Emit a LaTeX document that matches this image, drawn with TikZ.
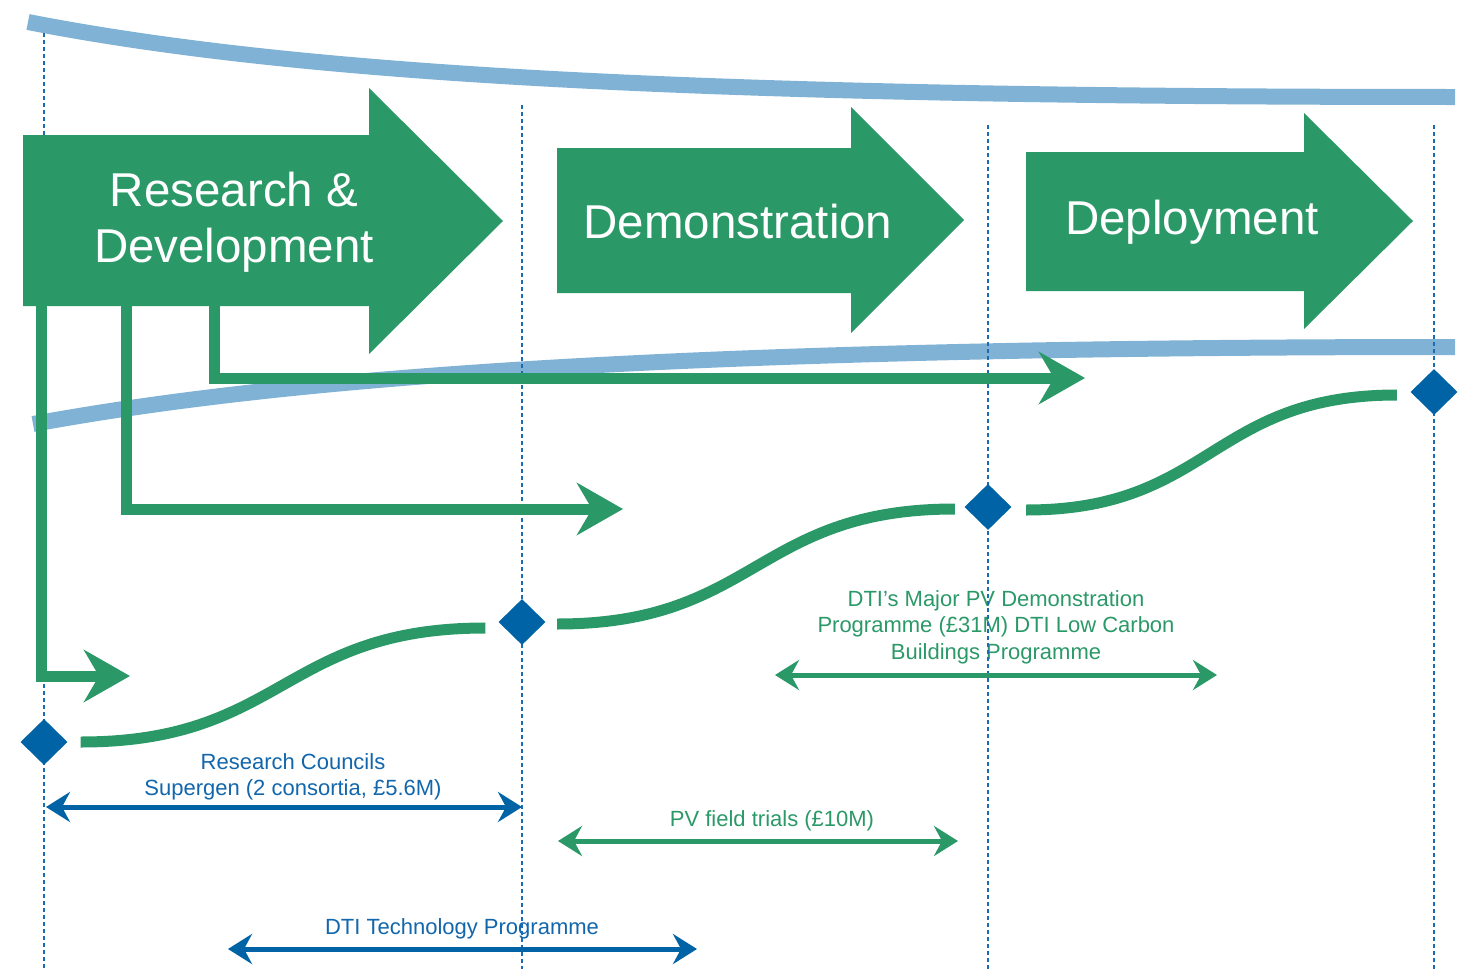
\documentclass[tikz,border=0pt]{standalone}
\usepackage{fontspec}
\setmainfont{Liberation Sans}
\usetikzlibrary{arrows.meta,shapes.geometric,calc}

\definecolor{phase}{RGB}{43,153,103}
\definecolor{gateblue}{RGB}{0,99,166}
\definecolor{band}{RGB}{127,178,212}
\definecolor{guide}{RGB}{28,108,180}
\definecolor{labelblue}{RGB}{18,102,172}

\begin{document}
\begin{tikzpicture}[x=1pt,y=-1pt,
  bandline/.style={band, line width=16pt},
  guideline/.style={guide, line width=1.8pt, dash pattern=on 3.5pt off 3.5pt},
  phasearrow/.style={fill=phase, draw=none},
  phasetext/.style={text=white, font=\fontsize{47.5}{56}\selectfont, inner sep=0pt, align=center},
  feed/.style={phase, line width=11pt, line join=miter, -{Stealth[length=46pt,width=52pt,inset=15pt]}},
  trend/.style={phase, line width=11pt},
  gate/.style={diamond, fill=gateblue, draw=none, minimum width=47pt, minimum height=46pt, inner sep=0pt},
  span/.style={line width=5pt, {Stealth[length=24pt,width=30pt,inset=8pt]}-{Stealth[length=24pt,width=30pt,inset=8pt]}},
  lbl/.style={font=\fontsize{22}{26.5}\selectfont, inner sep=0pt, align=center}
]
\useasboundingbox (0,0) rectangle (1465,969);

% funnel bands
\draw[bandline] (28,22) .. controls (300,75) and (700,97) .. (1455,97);
\draw[bandline] (33,424) .. controls (300,375) and (700,347) .. (1455,347);

% programme labels
\node[lbl, text=phase] (lowcarbon) at (996,627) {DTI’s Major PV Demonstration\\Programme (£31M) DTI Low Carbon\\Buildings Programme};
\node[lbl, text=phase, anchor=base] (fieldtrials) at (772,826) {PV field trials (£10M)};
\node[lbl, text=labelblue, font=\fontsize{22}{26}\selectfont] (supergen) at (293,776.5) {Research Councils\\Supergen (2 consortia, £5.6M)};
\node[lbl, text=labelblue, anchor=base] (techprog) at (462,934) {DTI Technology Programme};

% stage guide lines
\coordinate (c1t) at (44,33);   \coordinate (c1b) at (44,969);
\coordinate (c2t) at (522,105); \coordinate (c2b) at (522,969);
\coordinate (c3t) at (988,125); \coordinate (c3b) at (988,969);
\coordinate (c4t) at (1434,125);\coordinate (c4b) at (1434,969);
\draw[guideline] (c1t) -- (c1b);
\draw[guideline] (c2t) -- (c2b);
\draw[guideline] (c3t) -- (c3b);
\draw[guideline] (c4t) -- (c4b);

% stage arrows
\fill[phasearrow] (23,135) -- (369,135) -- (369,88) -- (503,221) -- (369,354) -- (369,306) -- (23,306) -- cycle;
\fill[phasearrow] (557,148) -- (851,148) -- (851,107) -- (964,220) -- (851,333) -- (851,293) -- (557,293) -- cycle;
\fill[phasearrow] (1026,152) -- (1304,152) -- (1304,113) -- (1413,221) -- (1304,329) -- (1304,291) -- (1026,291) -- cycle;
\node[phasetext] (rd) at (234,222.5) {Research \&\\Development};
\node[phasetext, anchor=base] (demo) at (738,238) {Demonstration};
\node[phasetext, anchor=base] (deploy) at (1192,234) {Deployment};

% feeds out of research and development
\coordinate (f1) at (41.5,300); \coordinate (f1e) at (130,676);
\coordinate (f2) at (126,300);  \coordinate (f2e) at (623,509);
\coordinate (f3) at (214,300);  \coordinate (f3e) at (1085,378);
\draw[feed] (f1) |- (f1e);
\draw[feed] (f2) |- (f2e);
\draw[feed] (f3) |- (f3e);

% milestones
\node[gate] (g1) at (44,742) {};
\node[gate] (g2) at (522,622) {};
\node[gate] (g3) at (988,507) {};
\node[gate] (g4) at (1434,392) {};

% progress curves between milestones
\draw[trend] ($(g1.east)+(13,0)$) .. controls (283,742) and (283,628) .. ($(g2.west)+(-13,6)$);
\draw[trend] ($(g2.east)+(11.5,2)$) .. controls (756,624) and (756,509) .. ($(g3.west)+(-9.5,2)$);
\draw[trend] ($(g3.east)+(14.5,3)$) .. controls (1211,510) and (1211,395) .. ($(g4.west)+(-13.5,3)$);

% programme spans
\coordinate (s1a) at (775,675);  \coordinate (s1b) at (1217,675);
\coordinate (s2a) at (558,841);  \coordinate (s2b) at (958,841);
\coordinate (s3a) at (46,807);   \coordinate (s3b) at (522,807);
\coordinate (s4a) at (228,949);  \coordinate (s4b) at (697,949);
\draw[span, phase] (s1a) -- (s1b);
\draw[span, phase] (s2a) -- (s2b);
\draw[span, gateblue] (s3a) -- (s3b);
\draw[span, gateblue] (s4a) -- (s4b);
\end{tikzpicture}
\end{document}
